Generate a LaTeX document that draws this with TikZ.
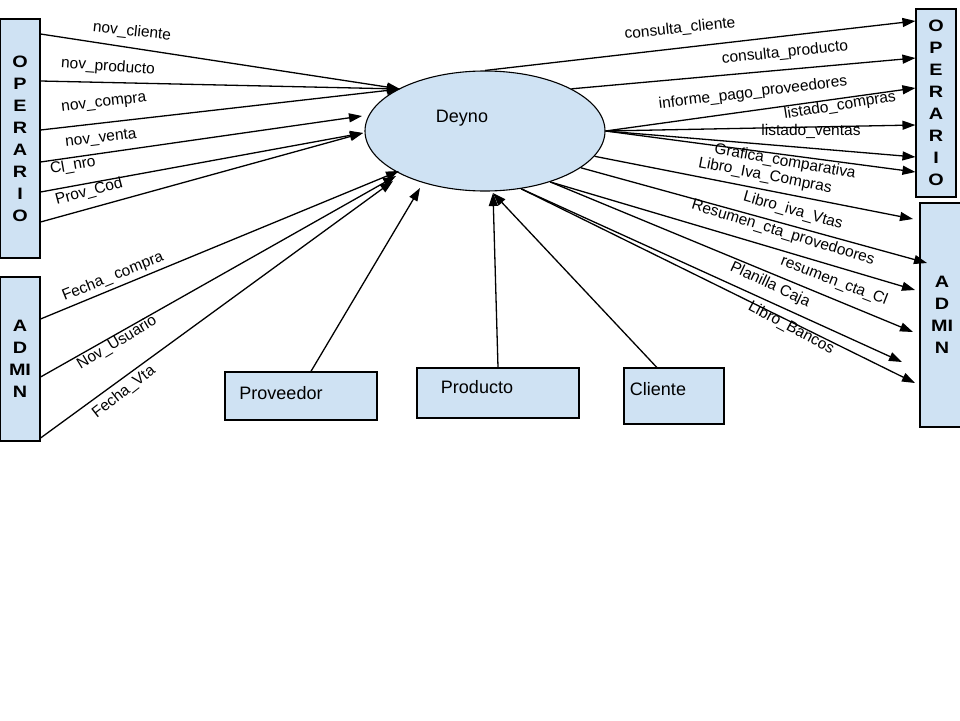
\documentclass[tikz,border=0pt]{standalone}
\usepackage{fontspec}
\setmainfont{Liberation Sans}
\newfontfamily\anchab[FakeStretch=1.2]{Liberation Sans}
\usetikzlibrary{shapes.geometric,arrows.meta}
\definecolor{celeste}{HTML}{CFE2F3}
\begin{document}
\begin{tikzpicture}[x=1pt,y=-1pt,line width=1.3pt,>={Triangle[length=13pt,width=9pt]}]
\tikzstyle{every node}=[font=\fontsize{15.5}{18}\selectfont]
\tikzstyle{actor}=[draw,fill=celeste,line width=1.1pt,inner sep=0pt,align=center,font=\anchab\fontsize{16.5}{22}\selectfont\bfseries]
\tikzstyle{ent}=[draw,fill=celeste,line width=1.1pt,inner sep=0pt]
\tikzstyle{big}=[font=\fontsize{18}{22}\selectfont]
\tikzstyle{lbl}=[inner sep=0pt]
\useasboundingbox (0,0) rectangle (960,720);

\node[actor,minimum width=40pt,minimum height=239pt] (opL) at (20,138.5) {O\\P\\E\\R\\A\\R\\I\\O};
\node[actor,minimum width=40pt,minimum height=164pt] (adL) at (20,359) {A\\D\\MI\\N};
\node[actor,minimum width=40pt,minimum height=188pt] (opR) at (936,103) {O\\P\\E\\R\\A\\R\\I\\O};
\node[actor,minimum width=44pt,minimum height=224pt] (adR) at (942,315) {A\\D\\MI\\N};

\node[ellipse,draw,fill=celeste,line width=1.1pt,inner sep=0pt,minimum width=240pt,minimum height=120pt] (deyno) at (485,131) {};
\node[big] (deynoT) at (462,118) {Deyno};

\node[ent,minimum width=152pt,minimum height=48pt] (prov) at (301,396) {};
\node[big] (provT) at (281,393) {Proveedor};
\node[ent,minimum width=162pt,minimum height=50pt] (prod) at (498,393) {};
\node[big] (prodT) at (477,387) {Producto};
\node[ent,minimum width=100pt,minimum height=56pt] (cli) at (674,396) {};
\node[big] (cliT) at (658,389) {Cliente};

\coordinate (inNov) at (400,89);
\coordinate (inVta) at (362,116);
\coordinate (inCod) at (363,133);
\coordinate (inF1) at (399,171);
\coordinate (inF2) at (396,176);
\coordinate (inF3) at (393,181);
\coordinate (inProv) at (420,188);
\coordinate (inProd) at (493,193);
\coordinate (outIvaC) at (913,219);
\coordinate (outIvaV) at (927,263);
\coordinate (outResP) at (915,290);
\coordinate (outResC) at (913,332);
\coordinate (outCaja) at (902,362);
\coordinate (outBco) at (915,383);

\draw[->] (opL.east |- 0,34) -- (inNov);
\draw[->] (opL.east |- 0,81) -- (inNov);
\draw[->] (opL.east |- 0,130) -- (inNov);
\draw[->] (opL.east |- 0,162) -- (inVta);
\draw[->] (opL.east |- 0,192) -- (inCod);
\draw[->] (opL.east |- 0,222) -- (inCod);
\node[lbl,rotate=-6] (lNovCli) at (132,32) {nov\_cliente};
\node[lbl,rotate=-4] (lNovProd) at (108,67) {nov\_producto};
\node[lbl,rotate=7] (lNovCom) at (104,104) {nov\_compra};
\node[lbl,rotate=7] (lNovVta) at (101,139) {nov\_venta};
\node[lbl,rotate=10] (lClNro) at (73,166) {Cl\_nro};
\node[lbl,rotate=15] (lProvCod) at (89,192) {Prov\_Cod};

\draw[->] (adL.east |- 0,319) -- (inF1);
\draw[->] (adL.east |- 0,377) -- (inF2);
\draw[->] (adL.east |- 0,438) -- (inF3);
\node[lbl,rotate=22] (lFechaC) at (113,277) {Fecha\_ compra};
\node[lbl,rotate=31] (lNovUsu) at (117,343) {Nov\_Usuario};
\node[lbl,rotate=38] (lFechaV) at (124,392) {Fecha\_Vta};

\draw[->] (prov.68) -- (inProv);
\draw[->] (prod.north) -- (inProd);
\draw[->] (cli.121) -- (inProd);

\draw[->] (deyno.north) -- (opR.west |- 0,21);
\draw[->] (deyno.26) -- (opR.west |- 0,58);
\draw[->] (deyno.east) -- (opR.west |- 0,88);
\draw[->] (deyno.east) -- (opR.west |- 0,125);
\draw[->] (deyno.east) -- (opR.west |- 0,157);
\draw[->] (deyno.east) -- (opR.west |- 0,172);
\node[lbl,rotate=6] (lConCli) at (680,29) {consulta\_cliente};
\node[lbl,rotate=6] (lConProd) at (785,53) {consulta\_producto};
\node[lbl,rotate=7] (lInfPago) at (753,93) {informe\_pago\_proveedores};
\node[lbl,rotate=9] (lListC) at (840,106) {listado\_compras};
\node[lbl] (lListV) at (811,131) {listado\_ventas};
\node[lbl,rotate=-10] (lGraf) at (785,162) {Grafica\_comparativa};

\draw[->] (deyno.-13) -- (outIvaC);
\draw[->] (deyno.-21) -- (outIvaV);
\draw[->] (deyno.-38) -- (outResP);
\draw[->] (deyno.-38) -- (outResC);
\draw[->] (deyno.-58) -- (outCaja);
\draw[->] (deyno.-58) -- (outBco);
\node[lbl,rotate=-11] (lIvaC) at (765,176) {Libro\_Iva\_Compras};
\node[lbl,rotate=-16] (lIvaV) at (793,211) {Libro\_iva\_Vtas};
\node[lbl,rotate=-17] (lResP) at (783,233) {Resumen\_cta\_provedoores};
\node[lbl,rotate=-21] (lResC) at (834,281) {resumen\_cta\_Cl};
\node[lbl,rotate=-25] (lCaja) at (770,285) {Planilla Caja};
\node[lbl,rotate=-28] (lBco) at (791,328) {Libro\_Bancos};

\end{tikzpicture}
\end{document}
